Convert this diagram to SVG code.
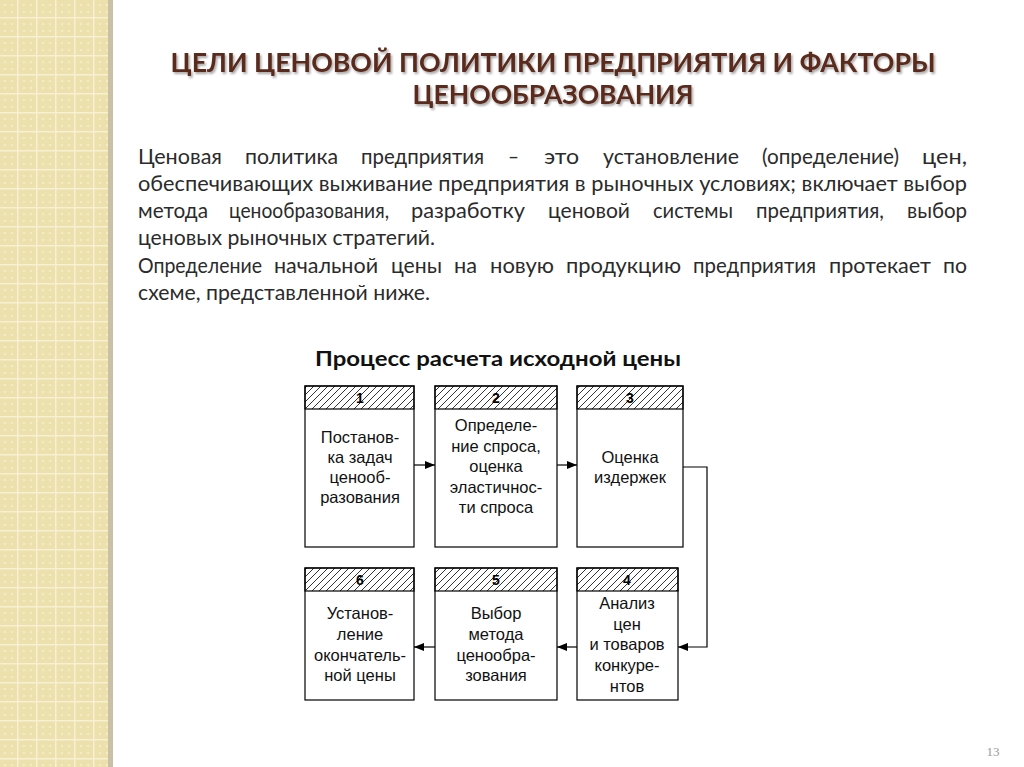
<svg xmlns="http://www.w3.org/2000/svg" width="1024" height="767" viewBox="0 0 1024 767">
<defs>
<pattern id="bg" patternUnits="userSpaceOnUse" width="19" height="19">
<rect width="19" height="19" fill="#ece0ad"/>
<circle cx="5" cy="5" r="1.3" fill="#f4ebc6"/>
<circle cx="12" cy="5" r="1.3" fill="#f4ebc6"/>
<circle cx="5" cy="12" r="1.3" fill="#f4ebc6"/>
<circle cx="12" cy="12" r="1.3" fill="#f4ebc6"/>
<rect x="17" y="0" width="1.5" height="19" fill="#f8f0d4"/>
<rect x="0" y="17" width="19" height="1.5" fill="#f8f0d4"/>
</pattern>
<pattern id="hatch" patternUnits="userSpaceOnUse" width="7" height="7">
<path d="M-1,8 L8,-1 M-1,1 L1,-1 M6,8 L8,6" stroke="#000" stroke-width="0.8"/>
</pattern>
<marker id="arr" markerWidth="10" markerHeight="8" refX="10" refY="4" orient="auto" markerUnits="userSpaceOnUse">
<path d="M0,0 L10,4 L0,8 Z" fill="#000"/>
</marker>
<filter id="sh" x="-5%" y="-20%" width="110%" height="150%">
<feDropShadow dx="1.5" dy="2" stdDeviation="1.2" flood-color="#000" flood-opacity="0.35"/>
</filter>
</defs>
<style>
.box{fill:#fff;stroke:#000;stroke-width:1.2}
.hb{fill:url(#hatch);stroke:#000;stroke-width:1.2}
.num{font-family:"Liberation Sans",Arial,sans-serif;font-weight:bold;font-size:14px;text-anchor:middle;fill:#000}
.bt{font-family:"Liberation Sans",Arial,sans-serif;font-size:16.5px;text-anchor:middle;fill:#111}
.body{font-family:Lato,"Noto Sans",sans-serif;font-size:21px;fill:#2b2b2b}
.title{font-family:Lato,"Open Sans",sans-serif;font-weight:bold;font-size:27px;fill:#5a2a1c;text-anchor:middle}
.con{fill:none;stroke:#000;stroke-width:1.2}
</style>
<rect width="1024" height="767" fill="#fff"/>
<rect x="0" y="0" width="108" height="767" fill="url(#bg)"/>
<rect x="108" y="0" width="5" height="767" fill="#c9c0a6"/>

<g id="title" filter="url(#sh)">
<text class="title" x="553" y="72" textLength="765" lengthAdjust="spacingAndGlyphs">ЦЕЛИ ЦЕНОВОЙ ПОЛИТИКИ ПРЕДПРИЯТИЯ  И ФАКТОРЫ</text>
<text class="title" x="553" y="104" textLength="281" lengthAdjust="spacingAndGlyphs">ЦЕНООБРАЗОВАНИЯ</text>
</g>

<g id="body" class="body">
<text y="164"><tspan x="138" textLength="84" lengthAdjust="spacingAndGlyphs">Ценовая</tspan><tspan x="245" textLength="93" lengthAdjust="spacingAndGlyphs">политика</tspan><tspan x="361" textLength="123" lengthAdjust="spacingAndGlyphs">предприятия</tspan><tspan x="508" textLength="11" lengthAdjust="spacingAndGlyphs">–</tspan><tspan x="544" textLength="35" lengthAdjust="spacingAndGlyphs">это</tspan><tspan x="603" textLength="136" lengthAdjust="spacingAndGlyphs">установление</tspan><tspan x="762" textLength="137" lengthAdjust="spacingAndGlyphs">(определение)</tspan><tspan x="922" textLength="45" lengthAdjust="spacingAndGlyphs">цен,</tspan></text>
<text x="138" y="191" textLength="829" lengthAdjust="spacingAndGlyphs">обеспечивающих выживание предприятия в рыночных условиях; включает выбор</text>
<text y="218"><tspan x="138" textLength="70" lengthAdjust="spacingAndGlyphs">метода</tspan><tspan x="229" textLength="160" lengthAdjust="spacingAndGlyphs">ценообразования,</tspan><tspan x="411" textLength="114" lengthAdjust="spacingAndGlyphs">разработку</tspan><tspan x="548" textLength="82" lengthAdjust="spacingAndGlyphs">ценовой</tspan><tspan x="653" textLength="80" lengthAdjust="spacingAndGlyphs">системы</tspan><tspan x="756" textLength="128" lengthAdjust="spacingAndGlyphs">предприятия,</tspan><tspan x="907" textLength="60" lengthAdjust="spacingAndGlyphs">выбор</tspan></text>
<text x="138" y="245" textLength="297" lengthAdjust="spacingAndGlyphs">ценовых рыночных стратегий.</text>
<text y="273"><tspan x="138" textLength="124" lengthAdjust="spacingAndGlyphs">Определение</tspan><tspan x="274" textLength="104" lengthAdjust="spacingAndGlyphs">начальной</tspan><tspan x="391" textLength="51" lengthAdjust="spacingAndGlyphs">цены</tspan><tspan x="454" textLength="23" lengthAdjust="spacingAndGlyphs">на</tspan><tspan x="490" textLength="64" lengthAdjust="spacingAndGlyphs">новую</tspan><tspan x="566" textLength="115" lengthAdjust="spacingAndGlyphs">продукцию</tspan><tspan x="693" textLength="123" lengthAdjust="spacingAndGlyphs">предприятия</tspan><tspan x="829" textLength="102" lengthAdjust="spacingAndGlyphs">протекает</tspan><tspan x="943" textLength="24" lengthAdjust="spacingAndGlyphs">по</tspan></text>
<text x="138" y="300" textLength="292" lengthAdjust="spacingAndGlyphs">схеме, представленной ниже.</text>
</g>

<text id="subtitle" x="498" y="366" font-family="Lato,'Noto Sans',sans-serif" font-weight="bold" font-size="20.5" text-anchor="middle" fill="#111" textLength="366" lengthAdjust="spacingAndGlyphs">Процесс расчета исходной цены</text>

<g id="connectors">
<line class="con" x1="414" y1="465" x2="435" y2="465" marker-end="url(#arr)"/>
<line class="con" x1="557" y1="465" x2="577" y2="465" marker-end="url(#arr)"/>
<polyline class="con" points="683,467 707,467 707,647 678,647" marker-end="url(#arr)"/>
<line class="con" x1="577" y1="647" x2="557" y2="647" marker-end="url(#arr)"/>
<line class="con" x1="435" y1="647" x2="414" y2="647" marker-end="url(#arr)"/>
</g>

<g id="node1">
<rect class="box" x="305" y="386" width="109" height="161"/>
<rect class="hb" x="305" y="386" width="109" height="23"/>
<text class="num" x="360" y="403">1</text>
<text class="bt" x="360" y="443">Постанов-</text>
<text class="bt" x="360" y="463">ка задач</text>
<text class="bt" x="360" y="483">ценооб-</text>
<text class="bt" x="360" y="503">разования</text>
</g>
<g id="node2">
<rect class="box" x="435" y="386" width="122" height="161"/>
<rect class="hb" x="435" y="386" width="122" height="23"/>
<text class="num" x="496" y="403">2</text>
<text class="bt" x="496" y="431">Определе-</text>
<text class="bt" x="496" y="452">ние спроса,</text>
<text class="bt" x="496" y="472">оценка</text>
<text class="bt" x="496" y="493">эластичнос-</text>
<text class="bt" x="496" y="513">ти спроса</text>
</g>
<g id="node3">
<rect class="box" x="577" y="386" width="106" height="161"/>
<rect class="hb" x="577" y="386" width="106" height="23"/>
<text class="num" x="630" y="403">3</text>
<text class="bt" x="630" y="463">Оценка</text>
<text class="bt" x="630" y="483">издержек</text>
</g>
<g id="node4">
<rect class="box" x="577" y="568" width="101" height="132"/>
<rect class="hb" x="577" y="568" width="101" height="23"/>
<text class="num" x="627" y="585">4</text>
<text class="bt" x="627" y="609">Анализ</text>
<text class="bt" x="627" y="630">цен</text>
<text class="bt" x="627" y="650">и товаров</text>
<text class="bt" x="627" y="671">конкуре-</text>
<text class="bt" x="627" y="692">нтов</text>
</g>
<g id="node5">
<rect class="box" x="435" y="568" width="122" height="132"/>
<rect class="hb" x="435" y="568" width="122" height="23"/>
<text class="num" x="496" y="585">5</text>
<text class="bt" x="496" y="619">Выбор</text>
<text class="bt" x="496" y="640">метода</text>
<text class="bt" x="496" y="661">ценообра-</text>
<text class="bt" x="496" y="681">зования</text>
</g>
<g id="node6">
<rect class="box" x="305" y="568" width="109" height="132"/>
<rect class="hb" x="305" y="568" width="109" height="23"/>
<text class="num" x="360" y="585">6</text>
<text class="bt" x="360" y="619">Установ-</text>
<text class="bt" x="360" y="640">ление</text>
<text class="bt" x="360" y="661">окончатель-</text>
<text class="bt" x="360" y="681">ной цены</text>
</g>

<text id="page" x="993" y="756" font-family="'Liberation Serif',serif" font-size="13" fill="#999" text-anchor="middle">13</text>
</svg>
